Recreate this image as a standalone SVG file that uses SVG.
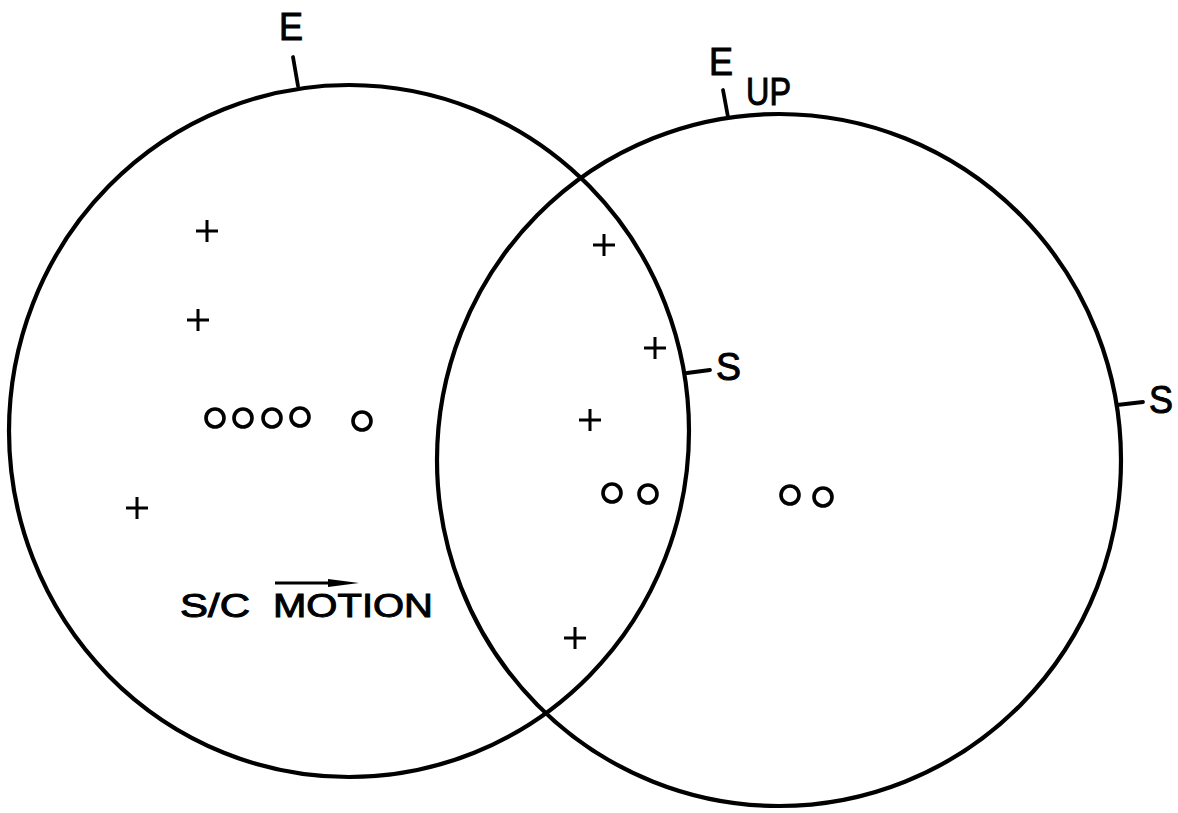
<svg xmlns="http://www.w3.org/2000/svg" width="1178" height="813" viewBox="0 0 1178 813">
<style>
.ring{fill:none;stroke:#000;stroke-width:4.2}
.tick{fill:none;stroke:#000;stroke-width:3.8;stroke-linecap:round}
.plus{fill:none;stroke:#000;stroke-width:3}
.dot{fill:none;stroke:#000;stroke-width:3.6}
.lbl{font-family:"Liberation Sans",Arial,sans-serif;font-size:39px;fill:#000;stroke:#000;stroke-width:1}
.sm{font-size:34px}
</style>
<defs>
<path id="p" d="M-11,0 H11 M0,-11 V11"/>
</defs>
<g id="left-circle">
<ellipse class="ring" cx="349" cy="431" rx="340" ry="346"/>
<line class="tick" x1="298" y1="86" x2="293" y2="57"/>
<text class="lbl" x="279" y="40" textLength="24" lengthAdjust="spacingAndGlyphs">E</text>
<line class="tick" x1="687" y1="373" x2="710" y2="370"/>
<text class="lbl" x="716" y="380" textLength="25" lengthAdjust="spacingAndGlyphs">S</text>
</g>
<g id="right-circle">
<ellipse class="ring" cx="779" cy="460" rx="342" ry="346"/>
<line class="tick" x1="728" y1="117" x2="723" y2="90"/>
<text class="lbl" x="709" y="75" textLength="24" lengthAdjust="spacingAndGlyphs">E</text>
<text class="lbl" x="746" y="105" textLength="45" lengthAdjust="spacingAndGlyphs">UP</text>
<line class="tick" x1="1117" y1="405" x2="1143" y2="402"/>
<text class="lbl" x="1149" y="413" textLength="24" lengthAdjust="spacingAndGlyphs">S</text>
</g>
<g id="plus-marks">
<use href="#p" class="plus" x="207" y="231"/>
<use href="#p" class="plus" x="198" y="320"/>
<use href="#p" class="plus" x="137" y="508"/>
<use href="#p" class="plus" x="604" y="245"/>
<use href="#p" class="plus" x="655" y="348"/>
<use href="#p" class="plus" x="590" y="420"/>
<use href="#p" class="plus" x="575" y="638"/>
</g>
<g id="circle-marks">
<circle class="dot" cx="215" cy="418" r="9"/>
<circle class="dot" cx="243" cy="418" r="9"/>
<circle class="dot" cx="272" cy="418" r="9"/>
<circle class="dot" cx="300" cy="417" r="9"/>
<circle class="dot" cx="362" cy="421" r="9"/>
<circle class="dot" cx="612" cy="493" r="9"/>
<circle class="dot" cx="648" cy="494" r="9"/>
<circle class="dot" cx="790" cy="495" r="9"/>
<circle class="dot" cx="823" cy="497" r="9"/>
</g>
<g id="motion-label">
<line x1="275" y1="583" x2="334" y2="583" stroke="#000" stroke-width="3"/>
<path d="M328,579 L359,583 L328,587 Z" fill="#000"/>
<text class="lbl sm" x="180" y="617" textLength="70" lengthAdjust="spacingAndGlyphs">S/C</text>
<text class="lbl sm" x="273" y="617" textLength="160" lengthAdjust="spacingAndGlyphs">MOTION</text>
</g>
<g id="connectors"></g>
</svg>
